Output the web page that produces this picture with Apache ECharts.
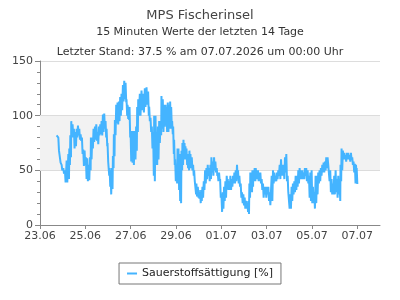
<!DOCTYPE html>
<html>
<head>
<meta charset="utf-8">
<script src="https://cdn.jsdelivr.net/npm/echarts@6/dist/echarts.min.js"></script>
<style>
  html, body { margin: 0; padding: 0; background: #fff; }
  #chart { width: 400px; height: 300px; }
</style>
</head>
<body>
<div id="chart"></div>
<script>
// hours after 23.06.2026 00:00, with the high and low reading in that slot
const hours = [
  17.6, 19.4, 21.1, 22.9, 24.7, 26.4, 28.2, 30.0, 31.0, 32.1, 33.1, 34.5, 35.9, 37.4, 38.8, 40.2,
  41.6, 43.0, 44.4, 45.8, 47.2, 48.6, 50.0, 51.5, 52.9, 53.9, 55.3, 56.7, 58.2, 59.6, 61.0, 62.4,
  63.8, 65.2, 66.6, 68.0, 69.4, 70.5, 71.5, 72.6, 73.7, 74.7, 76.1, 77.2, 78.2, 79.3, 80.7, 82.1,
  83.5, 84.9, 86.3, 87.8, 89.2, 90.6, 91.6, 92.7, 93.7, 94.8, 95.9, 97.3, 98.7, 100.4, 101.8, 102.9,
  104.0, 105.7, 107.5, 109.3, 111.0, 112.8, 114.5, 115.6, 117.0, 118.4, 119.8, 120.9, 122.3, 123.4, 124.8, 126.2,
  127.6, 128.6, 130.0, 131.5, 132.9, 133.9, 135.3, 136.7, 137.8, 138.9, 139.9, 141.0, 142.0, 143.1, 144.5, 145.6,
  146.6, 147.7, 148.7, 149.8, 150.8, 151.9, 153.0, 154.0, 155.1, 156.1, 157.2, 158.2, 159.3, 160.7, 162.1, 163.2,
  164.6, 165.6, 167.1, 168.1, 169.5, 170.6, 172.0, 173.4, 174.8, 176.2, 177.6, 179.0, 180.4, 181.5, 182.9, 184.3,
  185.7, 187.1, 188.2, 189.6, 190.7, 192.1, 193.5, 194.9, 196.3, 197.7, 198.8, 200.2, 201.6, 203.0, 204.4, 205.8,
  207.2, 208.6, 209.7, 211.1, 212.5, 213.9, 215.3, 216.7, 218.2, 219.6, 220.6, 221.7, 222.7, 223.8, 224.9, 225.9,
  227.3, 228.4, 229.4, 230.8, 231.9, 233.3, 234.7, 236.1, 237.5, 238.9, 240.4, 241.8, 243.2, 245.3, 246.7, 248.1,
  249.5, 250.9, 252.3, 253.8, 255.2, 256.6, 258.0, 259.4, 260.8, 262.2, 263.6, 265.0, 266.4, 267.8, 269.3, 270.7,
  272.1, 273.5, 274.9, 276.3, 277.7, 279.1, 280.5, 281.9, 283.4, 284.8, 286.2, 287.6, 289.0, 290.4, 291.8, 293.2,
  294.6, 296.0, 297.4, 298.9, 300.3, 301.7, 303.1, 304.5, 305.9, 307.3, 308.7, 310.1, 311.5, 313.0, 314.4, 315.8,
  317.2, 318.2, 319.3, 320.7, 322.1, 323.5, 324.9, 326.3, 327.8, 329.2, 330.6, 332.0, 333.4, 334.6, 335.3
];
const highs = [
  82, 80, 67, 55, 52, 50, 59, 65, 70, 82, 95, 92, 88, 85, 88, 91,
  88, 83, 80, 69, 68, 62, 61, 55, 62, 80, 80, 88, 90, 92, 85, 90,
  92, 95, 101, 102, 95, 88, 75, 59, 52, 50, 52, 63, 83, 96, 110, 112,
  113, 117, 120, 128, 132, 130, 115, 110, 108, 108, 86, 86, 86, 86, 90, 108,
  115, 120, 123, 120, 125, 126, 122, 108, 98, 90, 85, 100, 100, 85, 90, 95,
  95, 118, 115, 110, 110, 108, 112, 110, 113, 108, 95, 90, 78, 60, 55, 70,
  70, 65, 55, 68, 75, 78, 75, 72, 70, 65, 63, 68, 65, 62, 55, 50,
  40, 38, 35, 32, 30, 32, 35, 40, 50, 52, 55, 52, 55, 62, 58, 62,
  58, 52, 48, 48, 42, 28, 30, 35, 40, 45, 42, 40, 45, 42, 45, 48,
  50, 55, 50, 45, 38, 30, 28, 25, 22, 20, 22, 38, 48, 48, 50, 50,
  52, 52, 50, 50, 48, 48, 42, 38, 35, 35, 35, 35, 30, 45, 50, 48,
  45, 48, 50, 55, 60, 55, 55, 62, 65, 45, 30, 28, 35, 38, 40, 45,
  45, 50, 52, 50, 50, 48, 52, 52, 50, 45, 48, 50, 35, 30, 45, 45,
  48, 50, 52, 55, 57, 58, 62, 62, 55, 50, 42, 38, 45, 50, 42, 45,
  40, 55, 70, 68, 66, 64, 66, 66, 64, 66, 62, 58, 56, 55, 52
];
const lows = [
  82, 68, 57, 50, 47, 39, 39, 42, 55, 62, 80, 80, 70, 72, 80, 82,
  78, 77, 65, 54, 55, 42, 40, 41, 50, 60, 70, 76, 78, 77, 74, 82,
  83, 82, 85, 88, 80, 72, 58, 45, 35, 28, 33, 52, 63, 82, 93, 92,
  95, 100, 105, 113, 115, 112, 100, 97, 96, 80, 58, 57, 55, 60, 68, 85,
  100, 100, 105, 103, 108, 110, 100, 95, 85, 70, 45, 40, 55, 55, 60, 75,
  82, 88, 85, 90, 92, 85, 85, 88, 88, 88, 83, 65, 55, 40, 38, 45,
  32, 22, 20, 50, 55, 60, 60, 60, 55, 52, 50, 52, 52, 50, 45, 40,
  28, 26, 25, 24, 20, 22, 25, 32, 38, 42, 45, 40, 42, 48, 45, 50,
  48, 45, 40, 40, 25, 12, 15, 22, 25, 35, 32, 32, 32, 35, 38, 38,
  40, 42, 38, 35, 25, 20, 18, 15, 15, 12, 10, 25, 30, 30, 35, 40,
  40, 45, 42, 40, 40, 38, 32, 25, 28, 25, 28, 22, 18, 22, 38, 40,
  40, 42, 45, 42, 45, 45, 42, 48, 40, 30, 15, 15, 22, 28, 30, 32,
  35, 38, 42, 42, 42, 42, 45, 40, 38, 25, 22, 20, 20, 15, 20, 28,
  38, 40, 45, 48, 48, 50, 52, 55, 40, 30, 28, 28, 28, 30, 25, 28,
  22, 40, 50, 60, 60, 58, 60, 60, 58, 60, 55, 48, 38, 38, 37.5
];
const dayTicks = ['23.06', '25.06', '27.06', '29.06', '01.07', '03.07', '05.07', '07.07'];
const tickHours = [0, 48, 96, 144, 192, 240, 288, 336];
const bandLimits = [50, 100];
const seriesName = 'Sauerstoffsättigung [%]';

// zigzag high/low so the 15 min noise band comes out filled
const lineData = [];
hours.forEach((h, i) => {
  lineData.push([h, highs[i]]);
  lineData.push([h + 0.7, lows[i]]);
});

const chart = echarts.init(document.getElementById('chart'));
const font = 'DejaVu Sans, sans-serif';

chart.setOption({
  animation: false,
  textStyle: { fontFamily: font },
  title: [
    { text: 'MPS Fischerinsel', left: 'center', top: 4,
      textStyle: { fontSize: 13, fontWeight: 'normal', color: '#444', fontFamily: font } },
    { text: '15 Minuten Werte der letzten 14 Tage', left: 'center', top: 22,
      textStyle: { fontSize: 11, fontWeight: 'normal', color: '#333', fontFamily: font } },
    { text: 'Letzter Stand: 37.5 % am 07.07.2026 um 00:00 Uhr', left: 'center', top: 42,
      textStyle: { fontSize: 11, fontWeight: 'normal', color: '#333', fontFamily: font } }
  ],
  legend: {
    data: [{ name: seriesName, icon: 'rect' }],
    left: 'center',
    top: 263,
    itemWidth: 10,
    itemHeight: 2,
    padding: [5, 8],
    borderColor: '#777',
    borderWidth: 1,
    borderRadius: 0,
    textStyle: { fontSize: 11, color: '#222', fontFamily: font }
  },
  grid: { left: 40, right: 20, top: 61, bottom: 75, containLabel: false },
  xAxis: {
    type: 'value',
    min: 0,
    max: 360,
    interval: 48,
    axisLine: { lineStyle: { color: '#888', width: 1 } },
    axisTick: { length: 4, customValues: tickHours, lineStyle: { color: '#888' } },
    splitLine: { show: false },
    axisLabel: {
      fontSize: 11, color: '#444', margin: 6, fontFamily: font,
      customValues: tickHours,
      formatter: (v) => dayTicks[tickHours.indexOf(v)] || ''
    }
  },
  yAxis: {
    type: 'value',
    min: 0,
    max: 150,
    interval: 50,
    axisLine: { show: true, lineStyle: { color: '#888', width: 1 } },
    axisTick: { show: true, length: 5, lineStyle: { color: '#888' } },
    minorTick: { show: true, splitNumber: 5, length: 3, lineStyle: { color: '#888' } },
    splitLine: { show: true, lineStyle: { color: '#ddd', width: 1 } },
    axisLabel: { fontSize: 11, color: '#444', margin: 7, fontFamily: font }
  },
  series: [
    {
      // background band 50-100 % with its edge lines, kept under the data
      name: 'band',
      type: 'line',
      data: [],
      z: 1,
      silent: true,
      markArea: {
        silent: true,
        itemStyle: { color: '#f2f2f2' },
        data: [[{ yAxis: bandLimits[0] }, { yAxis: bandLimits[1] }]]
      },
      markLine: {
        silent: true,
        symbol: 'none',
        label: { show: false },
        lineStyle: { color: '#dcdcdc', width: 1, type: 'solid' },
        data: bandLimits.map((v) => ({ yAxis: v }))
      }
    },
    {
      name: seriesName,
      type: 'line',
      data: lineData,
      showSymbol: false,
      symbol: 'none',
      color: '#44b4ff',
      lineStyle: { width: 2, color: '#44b4ff' },
      z: 5
    }
  ]
});
</script>
</body>
</html>
